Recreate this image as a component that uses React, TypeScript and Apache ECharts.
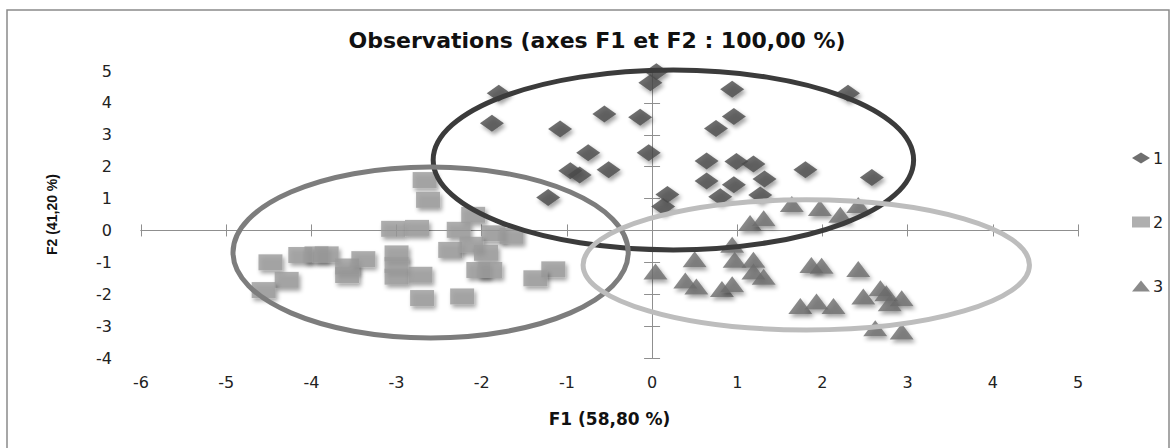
import React, { useEffect, useRef } from "react";
import * as echarts from "echarts";

const xTicks = [-6, -5, -4, -3, -2, -1, 0, 1, 2, 3, 4, 5];
const yTicks = [-4, -3, -2, -1, 0, 1, 2, 3, 4, 5];

const seriesNames = ["1", "2", "3"];

const class1Points = [
  [0.05, 4.98], [-0.02, 4.63], [-1.8, 4.3], [-1.88, 3.36], [-1.08, 3.18], [-0.56, 3.65],
  [-0.14, 3.55], [-0.75, 2.44], [-0.04, 2.44], [-0.96, 1.87], [-0.85, 1.74], [-0.51, 1.9],
  [-1.22, 1.03], [0.18, 1.13], [0.13, 0.75], [0.94, 4.43], [0.96, 3.57], [0.75, 3.2],
  [2.3, 4.3], [0.64, 2.18], [0.99, 2.16], [1.19, 2.08], [1.8, 1.9], [2.58, 1.66],
  [0.64, 1.55], [0.96, 1.43], [1.32, 1.61], [0.8, 1.06], [1.27, 1.11],
];

const class2Points = [
  [-2.67, 1.58], [-2.63, 0.96], [-3.04, 0.05], [-2.76, 0.08], [-4.48, -1.0], [-4.29, -1.55],
  [-4.56, -1.87], [-4.13, -0.77], [-3.94, -0.75], [-3.82, -0.75], [-3.58, -1.13], [-3.39, -0.9],
  [-3.58, -1.4], [-3.0, -0.72], [-3.0, -1.08], [-3.0, -1.45], [-2.7, -2.12], [-2.72, -1.39],
  [-2.1, 0.49], [-2.27, 0.02], [-1.86, -0.09], [-1.65, -0.17], [-2.37, -0.61], [-2.12, -0.45],
  [-1.95, -0.7], [-2.04, -1.24], [-1.9, -1.24], [-1.16, -1.22], [-1.37, -1.5], [-2.23, -2.07],
];

const class3Points = [
  [0.04, -1.29], [0.5, -0.9], [0.39, -1.57], [0.52, -1.76], [0.82, -1.84], [0.94, -1.69],
  [0.94, -0.45], [0.97, -0.92], [1.19, -0.92], [1.19, -1.29], [1.31, -1.45], [1.15, 0.23],
  [1.31, 0.38], [1.64, 0.83], [1.97, 0.7], [2.21, 0.49], [2.42, 0.8], [1.87, -1.08],
  [1.99, -1.11], [2.42, -1.21], [1.74, -2.37], [1.93, -2.23], [2.13, -2.37], [2.48, -2.07],
  [2.68, -1.81], [2.75, -1.97], [2.93, -2.13], [2.79, -2.28], [2.62, -3.07], [2.93, -3.17],
];

// ellipse: [centerX, centerY, radiusX, radiusY] in data units
const ellipseShapes = [
  [0.25, 2.21, 2.82, 2.82],
  [-2.6, -0.69, 2.32, 2.68],
  [1.81, -1.08, 2.62, 2.04],
];
const ellipseColors = ["#3b3b3b", "#7d7d7d", "#bdbdbd"];
const markerColors = ["#4b4b4b", "#9b9b9b", "#6d6d6d"];

const titleText = "Observations (axes F1 et F2 : 100,00 %)";
const xName = "F1 (58,80 %)";
const yName = "F2 (41,20 %)";

const AXIS_COLOR = "#8f8f8f";
const FONT = "DejaVu Sans";

export default function App() {
  const ref = useRef<HTMLDivElement>(null);
  useEffect(() => {
    document.body.style.margin = "0";
    const chart = echarts.init(ref.current!, null, { renderer: "svg" });
    const xMin = xTicks[0], xMax = xTicks[xTicks.length - 1];
    const yMin = yTicks[0], yMax = yTicks[yTicks.length - 1];
    const baseX = { type: "value", min: xMin, max: xMax, interval: 1, splitLine: { show: false } };
    const baseY = { type: "value", min: yMin, max: yMax, interval: 1, splitLine: { show: false } };
    const shadow = {
      shadowBlur: 4,
      shadowColor: "rgba(0,0,0,0.45)",
      shadowOffsetX: 2,
      shadowOffsetY: 3,
    };
    const option: any = {
      animation: false,
      backgroundColor: "#ffffff",
      graphic: [
        {
          type: "rect",
          shape: { x: 7, y: 10, width: 1162, height: 460 },
          style: { fill: "none", stroke: "#8a8a8a", lineWidth: 1.5 },
          silent: true,
          z: -10,
        },
      ],
      title: {
        text: titleText,
        left: 597,
        textAlign: "center",
        top: 29,
        padding: 0,
        textStyle: { fontFamily: FONT, fontWeight: "bold", fontSize: 22, color: "#111" },
      },
      legend: {
        orient: "vertical",
        left: 1127,
        top: 145,
        itemGap: 48,
        itemWidth: 18,
        itemHeight: 11,
        data: seriesNames,
        textStyle: { fontFamily: FONT, fontSize: 16, color: "#222", padding: [0, 0, 0, -2] },
      },
      grid: { left: 141, right: 98, top: 71, bottom: 90 },
      xAxis: [
        {
          ...baseX,
          position: "bottom",
          axisLine: { show: false, onZero: false },
          axisTick: { show: false },
          axisLabel: { margin: 16, fontFamily: FONT, fontSize: 16, color: "#222" },
          name: xName,
          nameLocation: "middle",
          nameGap: 52,
          nameTextStyle: { fontFamily: FONT, fontWeight: "bold", fontSize: 17, color: "#111" },
        },
        {
          ...baseX,
          axisLine: { show: true, onZero: true, onZeroAxisIndex: 1, lineStyle: { color: AXIS_COLOR } },
          axisTick: { show: true, inside: false, length: 6, lineStyle: { color: AXIS_COLOR } },
          axisLabel: { show: false },
        },
        {
          ...baseX,
          axisLine: { show: true, onZero: true, onZeroAxisIndex: 1, lineStyle: { color: AXIS_COLOR } },
          axisTick: { show: true, inside: true, length: 6, lineStyle: { color: AXIS_COLOR } },
          axisLabel: { show: false },
        },
      ],
      yAxis: [
        {
          ...baseY,
          position: "left",
          axisLine: { show: false, onZero: false },
          axisTick: { show: false },
          axisLabel: { margin: 29, fontFamily: FONT, fontSize: 16, color: "#222" },
          name: yName,
          nameLocation: "middle",
          nameGap: 82,
          nameTextStyle: {
            fontFamily: "Liberation Sans",
            fontWeight: "bold",
            fontSize: 14,
            color: "#111",
          },
        },
        {
          ...baseY,
          axisLine: { show: true, onZero: true, onZeroAxisIndex: 1, lineStyle: { color: AXIS_COLOR } },
          axisTick: { show: true, inside: false, length: 8, lineStyle: { color: AXIS_COLOR } },
          axisLabel: { show: false },
        },
        {
          ...baseY,
          axisLine: { show: true, onZero: true, onZeroAxisIndex: 1, lineStyle: { color: AXIS_COLOR } },
          axisTick: { show: true, inside: true, length: 8, lineStyle: { color: AXIS_COLOR } },
          axisLabel: { show: false },
        },
      ],
      series: [
        {
          name: seriesNames[0],
          type: "scatter",
          symbol: "diamond",
          symbolSize: [24, 17],
          data: class1Points,
          itemStyle: { color: markerColors[0], ...shadow },
          z: 3,
        },
        {
          name: seriesNames[1],
          type: "scatter",
          symbol: "rect",
          symbolSize: [24, 16],
          data: class2Points,
          itemStyle: { color: markerColors[1], ...shadow },
          z: 3,
        },
        {
          name: seriesNames[2],
          type: "scatter",
          symbol: "triangle",
          symbolSize: [24, 16],
          data: class3Points,
          itemStyle: { color: markerColors[2], ...shadow },
          z: 3,
        },
        {
          type: "custom",
          name: "ellipses",
          z: 4,
          silent: true,
          clip: false,
          data: ellipseShapes.map((e, i) => [...e, i]),
          renderItem: (params: any, api: any) => {
            const cx = api.value(0), cy = api.value(1), rx = api.value(2), ry = api.value(3);
            const idx = api.value(4);
            const c = api.coord([cx, cy]);
            const p = api.coord([cx + rx, cy + ry]);
            return {
              type: "ellipse",
              shape: { cx: c[0], cy: c[1], rx: Math.abs(p[0] - c[0]), ry: Math.abs(c[1] - p[1]) },
              style: { fill: "none", stroke: ellipseColors[idx], lineWidth: 5 },
            };
          },
        },
      ],
    };
    chart.setOption(option);
    return () => chart.dispose();
  }, []);
  return <div ref={ref} style={{ width: 1176, height: 448 }} />;
}
